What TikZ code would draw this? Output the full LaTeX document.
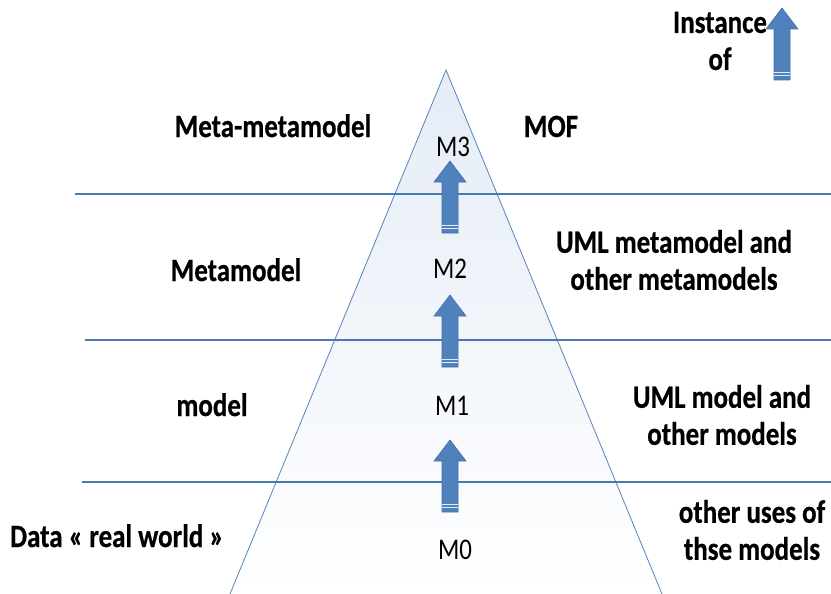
\documentclass[tikz,border=0pt]{standalone}
\usepackage{fontspec}
\setmainfont{Carlito}[FakeStretch=0.83, BoldFeatures={FakeBold=0.6}]
\definecolor{arrowblue}{RGB}{79,129,189}
\definecolor{arrowedge}{RGB}{66,112,168}
\definecolor{sepblue}{RGB}{74,120,176}
\definecolor{pyredge}{RGB}{84,132,190}
\definecolor{pyrtop}{RGB}{229,236,246}
\definecolor{pyrmid}{RGB}{244,247,251}
% upward block arrow: centre x, tip y, bottom y
\newcommand\upblock[3]{%
  \filldraw[arrowblock] (#1-8,#3) -- (#1-8,#2+21) -- (#1-16,#2+21) -- (#1,#2)
    -- (#1+16,#2+21) -- (#1+8,#2+21) -- (#1+8,#3) -- cycle;
  \draw[stripe] (#1-8,#3-8) -- (#1+8,#3-8);
  \draw[stripe] (#1-8,#3-4.5) -- (#1+8,#3-4.5);
}
\begin{document}
\begin{tikzpicture}[x=1pt,y=-1pt,
  tag/.style={font=\bfseries\fontsize{32.5}{37}\selectfont, inner sep=0pt, align=center},
  levelname/.style={font=\fontsize{30}{30}\selectfont, inner sep=0pt},
  separator/.style={draw=sepblue, line width=2.7pt},
  arrowblock/.style={fill=arrowblue, draw=arrowedge, line width=0.6pt},
  stripe/.style={draw=white!85!arrowblue, line width=0.9pt}]
\useasboundingbox (0,0) rectangle (831,594);
\clip (0,0) rectangle (831,594);

% pyramid
\coordinate (apex) at (446,70);
\coordinate (bl) at (230,594);
\coordinate (br) at (662,594);
\shade[top color=pyrtop, middle color=pyrmid, bottom color=white] (apex) -- (bl) -- (br) -- cycle;
\draw[pyredge, line width=0.8pt] (bl) -- (apex) -- (br);

% level separators
\coordinate (s3w) at (75,194);  \coordinate (s3e) at (831,194);
\coordinate (s2w) at (85,340);  \coordinate (s2e) at (831,340);
\coordinate (s1w) at (82,482);  \coordinate (s1e) at (831,482);
\draw[separator] (s3w) -- (s3e);
\draw[separator] (s2w) -- (s2e);
\draw[separator] (s1w) -- (s1e);

% instance-of arrows
\upblock{450}{161}{233}
\upblock{450}{295}{367}
\upblock{450}{440}{512}
\upblock{782}{8}{80}

% labels
\node[tag, anchor=base] (mmm) at (273,137) {Meta-metamodel};
\node[tag, anchor=base] (mof) at (551,137) {MOF};
\node[levelname, anchor=base] (m3) at (453,157) {M3};
\node[tag, anchor=base] (mm) at (236,281) {Metamodel};
\node[levelname, anchor=base] (m2) at (450,278) {M2};
\node[tag] (umlmm) at (674,260) {UML metamodel and\\other metamodels};
\node[tag, anchor=base] (mdl) at (212,416) {model};
\node[levelname, anchor=base] (m1) at (452,415) {M1};
\node[tag] (umlm) at (722,415) {UML model and\\other models};
\node[tag, anchor=base] (data) at (117,547) {Data « real world »};
\node[levelname, anchor=base] (m0) at (455,559) {M0};
\node[tag] (uses) at (752,530) {other uses of\\thse models};
\node[tag] (inst) at (720,41) {Instance\\of};
\end{tikzpicture}
\end{document}
